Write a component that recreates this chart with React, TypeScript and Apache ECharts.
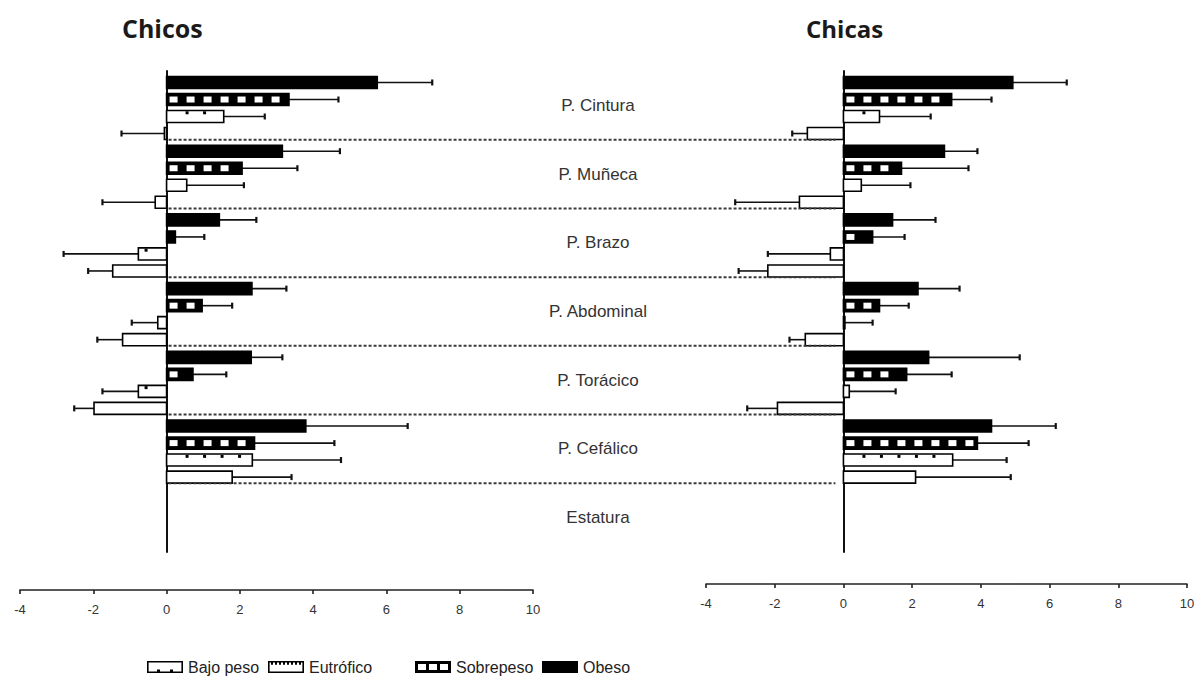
import React, { useEffect, useRef } from 'react';
import * as echarts from 'echarts';

const categories = ['P. Cintura', 'P. Muñeca', 'P. Brazo', 'P. Abdominal', 'P. Torácico', 'P. Cefálico', 'Estatura'];
const seriesNames = ['Bajo peso', 'Eutrófico', 'Sobrepeso', 'Obeso'];
const xMin = -4;
const xMax = 10;
const xStep = 2;

// Chicos (left panel): mean value and end of the error bar
const chicosBajoPeso = [-0.06, -0.31, -1.47, -1.2, -1.98, 1.79, 0];
const chicosBajoPesoErr = [-1.23, -1.75, -2.14, -1.89, -2.52, 3.41, 0];
const chicosEutrofico = [1.56, 0.55, -0.77, -0.24, -0.77, 2.34, 0];
const chicosEutroficoErr = [2.68, 2.11, -2.81, -0.95, -1.75, 4.76, 0];
const chicosSobrepeso = [3.34, 2.06, 0.24, 0.97, 0.72, 2.4, 0];
const chicosSobrepesoErr = [4.69, 3.57, 1.03, 1.79, 1.63, 4.58, 0];
const chicosObeso = [5.75, 3.16, 1.44, 2.33, 2.31, 3.8, 0];
const chicosObesoErr = [7.25, 4.73, 2.45, 3.27, 3.16, 6.58, 0];

// Chicas (right panel)
const chicasBajoPeso = [-1.05, -1.28, -2.2, -1.11, -1.92, 2.1, 0];
const chicasBajoPesoErr = [-1.49, -3.15, -3.05, -1.57, -2.8, 4.87, 0];
const chicasEutrofico = [1.05, 0.52, -0.38, 0.03, 0.17, 3.18, 0];
const chicasEutroficoErr = [2.54, 1.95, -2.2, 0.85, 1.52, 4.75, 0];
const chicasSobrepeso = [3.15, 1.69, 0.85, 1.05, 1.84, 3.9, 0];
const chicasSobrepesoErr = [4.31, 3.64, 1.78, 1.9, 3.15, 5.39, 0];
const chicasObeso = [4.93, 2.94, 1.43, 2.17, 2.48, 4.31, 0];
const chicasObesoErr = [6.5, 3.9, 2.68, 3.38, 5.13, 6.18, 0];

const SLOT: Record<string, number> = { 'Obeso': 0.167, 'Sobrepeso': 0.415, 'Eutrófico': 0.662, 'Bajo peso': 0.91 };

function makeRender(kind: string) {
  return (params: any, api: any) => {
    const cat = api.value(0);
    const v = api.value(1);
    const e = api.value(2);
    if (!v && !e) return null;
    const band = api.size([0, 1])[1];
    const c0 = api.coord([0, cat]);
    const c1 = api.coord([v, cat]);
    const ce = api.coord([e, cat]);
    const h = band * 0.175;
    const yc = c0[1] - band / 2 + band * SLOT[kind];
    const y = yc - h / 2;
    const xa = Math.min(c0[0], c1[0]);
    const xb = Math.max(c0[0], c1[0]);
    const len = xb - xa;
    const dir = v >= 0 ? 1 : -1;
    const children: any[] = [];
    children.push({ type: 'line', shape: { x1: c1[0], y1: yc, x2: ce[0], y2: yc }, style: { stroke: '#111', lineWidth: 1.6 } });
    children.push({ type: 'line', shape: { x1: ce[0], y1: yc - 3, x2: ce[0], y2: yc + 3 }, style: { stroke: '#111', lineWidth: 2.2 } });
    const fill = kind === 'Obeso' || kind === 'Sobrepeso' ? '#000' : '#fff';
    children.push({ type: 'rect', shape: { x: xa, y, width: Math.max(len, 1.5), height: h }, style: { fill, stroke: '#000', lineWidth: 1.6 } });
    if (kind === 'Sobrepeso') {
      for (let off = 3; off + 8 <= len - 2; off += 17) {
        const sx = dir > 0 ? c0[0] + off : c0[0] - off - 8;
        children.push({ type: 'rect', shape: { x: sx, y: yc - 3, width: 8, height: 6 }, style: { fill: '#fff' } });
      }
    }
    if (kind === 'Eutrófico') {
      for (let off = 19; off + 3 <= len - 2; off += 17.5) {
        const sx = dir > 0 ? c0[0] + off : c0[0] - off - 3;
        children.push({ type: 'rect', shape: { x: sx, y: y + 0.8, width: 3, height: 3 }, style: { fill: '#000' } });
      }
    }
    return { type: 'group', children };
  };
}

function makeSeries(name: string, values: number[], errs: number[], gridIdx: number) {
  return {
    type: 'custom',
    name,
    xAxisIndex: gridIdx,
    yAxisIndex: gridIdx,
    itemStyle: { color: '#000' },
    encode: { x: [1, 2], y: 0 },
    renderItem: makeRender(name),
    data: values.map((v, i) => [i, v, errs[i]]),
  };
}

const FRAME = 'M0 0L36 0L36 12L0 12ZM1.6 1.6L1.6 10.4L34.4 10.4L34.4 1.6Z';
function dots(xs: number[], y: number, w: number, hgt: number) {
  return xs.map((x) => `M${x} ${y}L${x + w} ${y}L${x + w} ${y + hgt}L${x} ${y + hgt}Z`).join('');
}
const ICONS: Record<string, string> = {
  'Bajo peso': 'path://' + FRAME + dots([10, 23], 8.4, 3, 2),
  'Eutrófico': 'path://' + FRAME + dots([3, 7, 11, 15, 19, 23, 27, 31], 1.6, 2, 2.2),
  'Sobrepeso': 'path://M0 0L36 0L36 12L0 12Z' + [3, 14, 25].map((x) => `M${x} 3L${x} 9L${x + 8} 9L${x + 8} 3Z`).join(''),
  'Obeso': 'path://M0 0L36 0L36 12L0 12Z',
};
const LEGEND_LEFT = [147, 268, 415, 542];

export default function App() {
  const ref = useRef<HTMLDivElement>(null);
  useEffect(() => {
    if (!ref.current) return;
    const chart = echarts.init(ref.current, null, { renderer: 'svg' });
    const tickLabel = { color: '#333', fontSize: 13, fontFamily: 'Liberation Sans, Arial, sans-serif', margin: 13 };
    const xAxisBase = {
      type: 'value', min: xMin, max: xMax, interval: xStep, position: 'bottom',
      axisLine: { show: true, onZero: false, lineStyle: { color: '#222', width: 1.6 } },
      axisTick: { show: true, length: 4, lineStyle: { color: '#222', width: 1.6 } },
      splitLine: { show: false },
      axisLabel: tickLabel,
    };
    const yAxisBase = {
      type: 'category', data: categories, inverse: true,
      axisLine: { show: true, onZero: true, lineStyle: { color: '#111', width: 2 } },
      axisTick: { show: false },
      splitLine: { show: false },
    };
    const option: any = {
      animation: false,
      backgroundColor: '#fff',
      title: [
        { text: 'Chicos', left: 122, top: 15, padding: 0, textStyle: { fontFamily: 'Open Sans, sans-serif', fontWeight: 'bold', fontSize: 25, color: '#1a1a1a' } },
        { text: 'Chicas', left: 806, top: 16, padding: 0, textStyle: { fontFamily: 'Open Sans, sans-serif', fontWeight: 'bold', fontSize: 24, color: '#1a1a1a' } },
      ],
      grid: [
        { left: 20, top: 71, width: 513, height: 481, containLabel: false },
        { left: 706, top: 71, width: 481, height: 481, containLabel: false },
      ],
      xAxis: [
        { ...xAxisBase, gridIndex: 0, offset: 38 },
        { ...xAxisBase, gridIndex: 1, offset: 32 },
      ],
      yAxis: [
        { ...yAxisBase, gridIndex: 0, axisLabel: { show: true, inside: true, margin: 578, align: 'center', color: '#333', fontSize: 17, fontFamily: 'Liberation Sans, Arial, sans-serif' } },
        { ...yAxisBase, gridIndex: 1, axisLabel: { show: false } },
      ],
      legend: seriesNames.map((n, i) => ({
        selectedMode: false,
        left: LEGEND_LEFT[i],
        top: 659,
        padding: 0,
        itemWidth: 36,
        itemHeight: 12,
        itemGap: 0,
        textStyle: { color: '#222', fontSize: 16, fontFamily: 'Liberation Sans, Arial, sans-serif' },
        data: [{ name: n, icon: ICONS[n], itemStyle: { color: '#000', borderWidth: 0 } }],
      })),
      series: [
        makeSeries('Bajo peso', chicosBajoPeso, chicosBajoPesoErr, 0),
        makeSeries('Eutrófico', chicosEutrofico, chicosEutroficoErr, 0),
        makeSeries('Sobrepeso', chicosSobrepeso, chicosSobrepesoErr, 0),
        makeSeries('Obeso', chicosObeso, chicosObesoErr, 0),
        makeSeries('Bajo peso', chicasBajoPeso, chicasBajoPesoErr, 1),
        makeSeries('Eutrófico', chicasEutrofico, chicasEutroficoErr, 1),
        makeSeries('Sobrepeso', chicasSobrepeso, chicasSobrepesoErr, 1),
        makeSeries('Obeso', chicasObeso, chicasObesoErr, 1),
      ],
    };
    chart.setOption(option);
    const x0L = chart.convertToPixel({ xAxisIndex: 0 } as any, 0) as unknown as number;
    const x0R = chart.convertToPixel({ xAxisIndex: 1 } as any, 0) as unknown as number;
    const lines: any[] = [];
    for (let i = 0; i < categories.length - 1; i++) {
      const ya = chart.convertToPixel({ yAxisIndex: 0 } as any, i) as unknown as number;
      const yb = chart.convertToPixel({ yAxisIndex: 0 } as any, i + 1) as unknown as number;
      const y = (ya + yb) / 2;
      lines.push({ type: 'line', silent: true, z: 5, shape: { x1: x0L + 2, y1: y, x2: x0R - 8, y2: y }, style: { stroke: '#3a3a3a', lineWidth: 2, lineDash: [3, 2] } });
    }
    chart.setOption({ graphic: lines });
    return () => chart.dispose();
  }, []);
  return <div ref={ref} style={{ position: 'absolute', left: 0, top: 0, width: 1198, height: 688 }} />;
}
